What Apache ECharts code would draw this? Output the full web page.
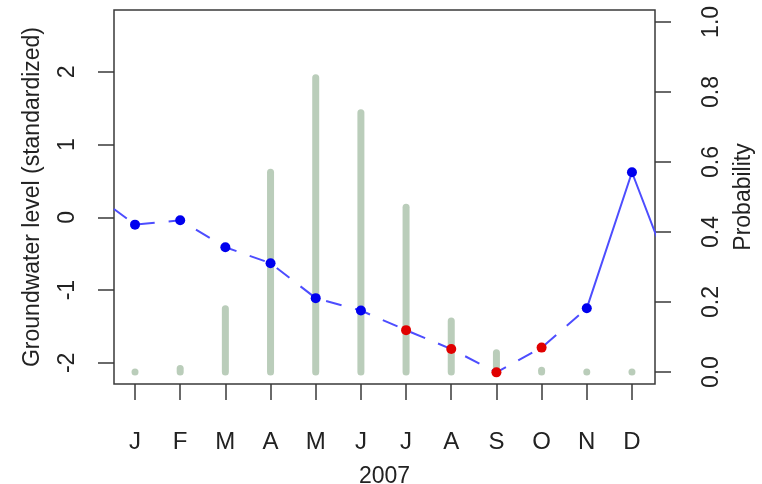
<!DOCTYPE html>
<html>
  <head>
    <meta charset="utf-8" />
    <title>Groundwater 2007</title>
    <style>
      body { margin: 0; background: #fff; }
    </style>
  </head>
  <body>
    <script src="https://cdn.jsdelivr.net/npm/echarts@6/dist/echarts.min.js"></script>

    <div id="chart" style="width: 762px; height: 484px"></div>

    <script>
      // monthly groundwater level (standardized), 2007
      const months = ['J', 'F', 'M', 'A', 'M', 'J', 'J', 'A', 'S', 'O', 'N', 'D'];
      const level = [-0.10, -0.04, -0.41, -0.63, -1.11, -1.28, -1.55, -1.81, -2.13, -1.79, -1.25, 0.62];
      const levelDec2006 = 0.36;
      const levelJan2008 = -1.0;
      // red dots = flagged months
      const flagged = [0, 0, 0, 0, 0, 0, 1, 1, 1, 1, 0, 0];
      // probability bars (right axis)
      const prob = [0, 0.01, 0.18, 0.57, 0.84, 0.74, 0.47, 0.145, 0.055, 0.005, 0, 0];
      const leftTicks = [-2, -1, 0, 1, 2];
      const rightTicks = [0, 0.2, 0.4, 0.6, 0.8, 1.0];

      const font = "'Liberation Sans', Arial, sans-serif";
      const monthIdx = months.map((m, i) => i);

      // dashed part: Dec 2006 .. Nov, solid part: Nov .. Jan 2008
      const dashed = [[-1, levelDec2006]];
      for (let i = 0; i <= 10; i++) dashed.push([i, level[i]]);
      const solid = [[10, level[10]], [11, level[11]], [12, levelJan2008]];

      const blueDots = [];
      const redDots = [];
      level.forEach((v, i) => (flagged[i] ? redDots : blueDots).push([i, v]));

      const probData = prob.map((p, i) => [i, p]);

      const chart = echarts.init(document.getElementById('chart'), null, {
        width: 762,
        height: 484,
      });

      const axisCol = '#3a3a3a';
      const textCol = '#222';

      chart.setOption({
        animation: false,
        textStyle: { fontFamily: font },
        grid: {
          show: true,
          left: 114,
          right: 107,
          top: 10,
          bottom: 100,
          outerBoundsMode: 'none',
          borderColor: axisCol,
          borderWidth: 1.5,
        },
        xAxis: {
          type: 'value',
          min: -0.465,
          max: 11.51,
          splitLine: { show: false },
          axisLine: { show: false, onZero: false },
          axisTick: {
            customValues: monthIdx,
            length: 16,
            lineStyle: { color: axisCol, width: 1.5 },
          },
          axisLabel: {
            customValues: monthIdx,
            formatter: (v) => months[Math.round(v)],
            margin: 46,
            fontSize: 24,
            color: textCol,
          },
          name: '2007',
          nameLocation: 'middle',
          nameGap: 81,
          nameTextStyle: { fontSize: 23, color: textCol },
        },
        yAxis: [
          {
            type: 'value',
            min: -2.29,
            max: 2.85,
            splitLine: { show: false },
            axisLine: { show: false, onZero: false },
            axisTick: {
              customValues: leftTicks,
              length: 16,
              lineStyle: { color: axisCol, width: 1.5 },
            },
            axisLabel: {
              customValues: leftTicks,
              rotate: 90,
              margin: 35,
              fontSize: 23,
              color: textCol,
            },
            name: 'Groundwater level (standardized)',
            nameLocation: 'middle',
            nameRotate: 90,
            nameGap: 70,
            nameTextStyle: { fontSize: 23, color: textCol },
          },
          {
            type: 'value',
            min: -0.034,
            max: 1.034,
            position: 'right',
            splitLine: { show: false },
            axisLine: { show: false, onZero: false },
            axisTick: {
              customValues: rightTicks,
              length: 16,
              lineStyle: { color: axisCol, width: 1.5 },
            },
            axisLabel: {
              customValues: rightTicks,
              formatter: (v) => v.toFixed(1),
              rotate: 90,
              margin: 45,
              fontSize: 23,
              color: textCol,
            },
            name: 'Probability',
            nameLocation: 'middle',
            nameRotate: 90,
            nameGap: 77,
            nameTextStyle: { fontSize: 23, color: textCol },
          },
        ],
        series: [
          {
            type: 'custom',
            yAxisIndex: 1,
            z: 1,
            data: probData,
            renderItem: function (params, api) {
              const top = api.coord([api.value(0), api.value(1)]);
              const base = api.coord([api.value(0), 0]);
              return {
                type: 'line',
                shape: { x1: base[0], y1: base[1], x2: top[0], y2: top[1] - 0.2 },
                style: { stroke: '#bacdba', lineWidth: 7, lineCap: 'round' },
              };
            },
          },
          {
            type: 'line',
            z: 2,
            data: dashed,
            showSymbol: false,
            lineStyle: { color: '#4d4dff', width: 2, type: [16, 14] },
          },
          {
            type: 'line',
            z: 2,
            data: solid,
            showSymbol: false,
            lineStyle: { color: '#4d4dff', width: 2 },
          },
          {
            type: 'scatter',
            z: 3,
            data: blueDots,
            symbolSize: 10,
            itemStyle: { color: '#0000ee', opacity: 1 },
          },
          {
            type: 'scatter',
            z: 3,
            data: redDots,
            symbolSize: 10,
            itemStyle: { color: '#e00000', opacity: 1 },
          },
        ],
      });
    </script>
  </body>
</html>
